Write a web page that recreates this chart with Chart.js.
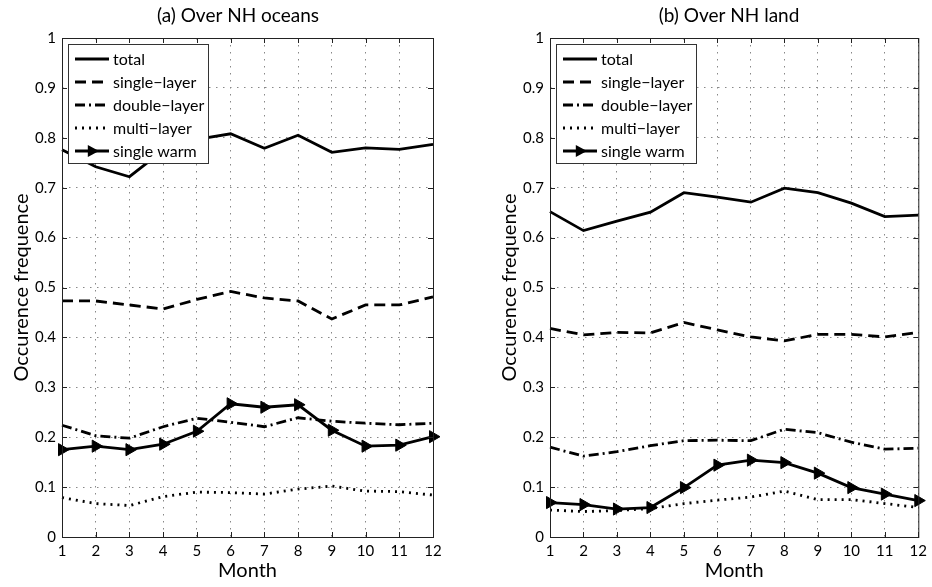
<!DOCTYPE html>
<html>
<head>
<meta charset="utf-8">
<script src="https://cdn.jsdelivr.net/npm/chart.js@4.4.0/dist/chart.umd.min.js"></script>
<style>
  body { margin: 0; background: #fff; }
  .panel { position: absolute; top: 0; width: 466px; height: 587px; }
  #p1 { left: 0; }
  #p2 { left: 466px; }
</style>
</head>
<body>
<div class="panel" id="p1"><canvas id="ocean"></canvas></div>
<div class="panel" id="p2"><canvas id="land"></canvas></div>
<script>
const months = ['1', '2', '3', '4', '5', '6', '7', '8', '9', '10', '11', '12'];
const seriesNames = ['total', 'single\u2212layer', 'double\u2212layer', 'multi\u2212layer', 'single warm'];

// (a) Over NH oceans
const oceanTotal  = [0.776, 0.742, 0.722, 0.775, 0.797, 0.808, 0.779, 0.805, 0.771, 0.780, 0.777, 0.787];
const oceanSingle = [0.473, 0.473, 0.465, 0.457, 0.476, 0.492, 0.479, 0.473, 0.437, 0.465, 0.465, 0.481];
const oceanDouble = [0.224, 0.203, 0.198, 0.221, 0.238, 0.230, 0.221, 0.239, 0.232, 0.228, 0.225, 0.228];
const oceanMulti  = [0.079, 0.067, 0.063, 0.081, 0.090, 0.089, 0.086, 0.096, 0.102, 0.092, 0.091, 0.084];
const oceanWarm   = [0.175, 0.182, 0.175, 0.186, 0.212, 0.267, 0.260, 0.265, 0.214, 0.182, 0.184, 0.201];

// (b) Over NH land
const landTotal  = [0.652, 0.614, 0.633, 0.651, 0.690, 0.681, 0.671, 0.699, 0.690, 0.669, 0.642, 0.645];
const landSingle = [0.418, 0.405, 0.410, 0.409, 0.430, 0.415, 0.401, 0.393, 0.406, 0.406, 0.401, 0.410];
const landDouble = [0.180, 0.162, 0.171, 0.183, 0.193, 0.194, 0.193, 0.216, 0.209, 0.190, 0.176, 0.178];
const landMulti  = [0.054, 0.051, 0.053, 0.057, 0.067, 0.074, 0.080, 0.092, 0.075, 0.075, 0.067, 0.059];
const landWarm   = [0.069, 0.065, 0.056, 0.059, 0.099, 0.144, 0.154, 0.149, 0.128, 0.099, 0.086, 0.073];

const FONT = 'Lato, "Open Sans", sans-serif';

function drawTriangle(ctx, x, y, r) {
    ctx.beginPath();
    ctx.moveTo(x + r, y);
    ctx.lineTo(x - r * 0.6, y - r * 0.85);
    ctx.lineTo(x - r * 0.6, y + r * 0.85);
    ctx.closePath();
    ctx.fill();
}

// frame, inward ticks, panel title and the boxed legend
const matlabDecor = {
    id: 'matlabDecor',
    afterDatasetsDraw(chart, args, opts) {
        const { ctx, chartArea: a } = chart;
        const xs = chart.scales.x, ys = chart.scales.y;
        ctx.save();
        ctx.strokeStyle = '#222';
        ctx.lineWidth = 1;
        ctx.setLineDash([]);
        ctx.strokeRect(a.left + 0.5, a.top + 0.5, a.right - a.left, a.bottom - a.top);
        ctx.beginPath();
        xs.ticks.forEach((t, i) => {
            const px = Math.round(xs.getPixelForTick(i)) + 0.5;
            ctx.moveTo(px, a.bottom); ctx.lineTo(px, a.bottom - 5);
            ctx.moveTo(px, a.top); ctx.lineTo(px, a.top + 5);
        });
        ys.ticks.forEach(t => {
            const py = Math.round(ys.getPixelForValue(t.value)) + 0.5;
            ctx.moveTo(a.left, py); ctx.lineTo(a.left + 5, py);
            ctx.moveTo(a.right, py); ctx.lineTo(a.right - 5, py);
        });
        ctx.stroke();

        // title
        ctx.fillStyle = '#000';
        ctx.font = '19px ' + FONT;
        ctx.textAlign = 'center';
        ctx.textBaseline = 'middle';
        ctx.fillText(opts.title, opts.titleX, 16);

        // legend box
        const x0 = a.left + 6, y0 = a.top + 6;
        ctx.fillStyle = '#fff';
        ctx.fillRect(x0, y0, 140, 119);
        ctx.strokeStyle = '#333';
        ctx.strokeRect(x0 + 0.5, y0 + 0.5, 140, 119);
        ctx.font = '16px ' + FONT;
        ctx.textAlign = 'left';
        chart.data.datasets.forEach((ds, i) => {
            const y = y0 + 15 + i * 23;
            ctx.strokeStyle = '#000';
            ctx.lineWidth = ds.borderWidth;
            ctx.setLineDash(ds.borderDash || []);
            ctx.beginPath();
            ctx.moveTo(x0 + 7, y);
            ctx.lineTo(x0 + 41, y);
            ctx.stroke();
            ctx.setLineDash([]);
            ctx.fillStyle = '#000';
            if (ds.pointRadius) drawTriangle(ctx, x0 + 24, y, 7);
            ctx.fillText(ds.label, x0 + 45, y + 1);
        });
        ctx.restore();
    }
};

function makePanel(id, title, titleX, axisWidth, padRight, data) {
    const dashes = [[], [11, 6], [10, 4, 2, 4], [2, 5], []];
    const datasets = data.map((vals, i) => ({
        label: seriesNames[i],
        data: vals,
        borderColor: '#000',
        backgroundColor: '#000',
        borderWidth: 2.8,
        borderDash: dashes[i],
        pointRadius: i === 4 ? 7 : 0,
        pointStyle: 'triangle',
        pointRotation: 90,
        pointBorderWidth: 1,
        tension: 0
    }));

    new Chart(document.getElementById(id), {
        type: 'line',
        data: { labels: months, datasets: datasets },
        options: {
            responsive: true,
            maintainAspectRatio: false,
            animation: false,
            clip: false,
            layout: { padding: { top: 38, right: padRight, left: 0, bottom: 0 } },
            plugins: {
                legend: { display: false },
                tooltip: { enabled: false },
                matlabDecor: { title: title, titleX: titleX }
            },
            scales: {
                x: {
                    afterFit: s => { s.height = 50; },
                    grid: { color: '#888', lineWidth: 1, drawTicks: false },
                    border: { display: false, dash: [1.5, 5.5] },
                    ticks: { color: '#000', padding: 5, font: { family: FONT, size: 15 }, maxRotation: 0, autoSkip: false },
                    title: { display: true, text: 'Month', color: '#000', font: { family: FONT, size: 20 }, padding: { top: 0, bottom: 4 } }
                },
                y: {
                    min: 0,
                    max: 1,
                    afterFit: s => { s.width = axisWidth; },
                    grid: { color: '#888', lineWidth: 1, drawTicks: false },
                    border: { display: false, dash: [1.5, 5.5] },
                    ticks: {
                        stepSize: 0.1,
                        color: '#000',
                        padding: 6,
                        font: { family: FONT, size: 15 },
                        callback: v => (v === 0 || v === 1) ? String(v) : v.toFixed(1)
                    },
                    title: { display: true, text: 'Occurence frequence', color: '#000', font: { family: FONT, size: 20 }, padding: { top: axisWidth - 52, bottom: 0 } }
                }
            }
        },
        plugins: [matlabDecor]
    });
}

makePanel('ocean', '(a) Over NH oceans', 238, 62, 33,
    [oceanTotal, oceanSingle, oceanDouble, oceanMulti, oceanWarm]);
makePanel('land', '(b) Over NH land', 263, 84, 11,
    [landTotal, landSingle, landDouble, landMulti, landWarm]);
</script>
</body>
</html>
